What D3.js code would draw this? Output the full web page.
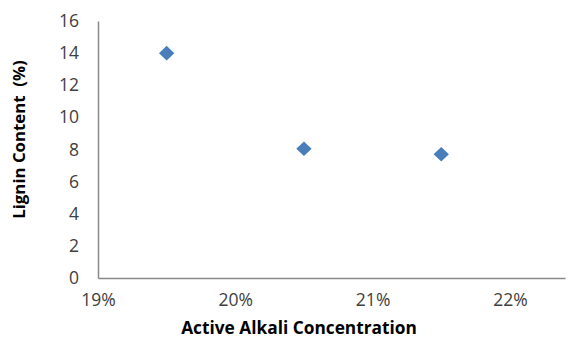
<!DOCTYPE html>
<html>
<head>
<meta charset="utf-8">
<script src="https://cdn.jsdelivr.net/npm/d3@7"></script>
<style>
  html, body { margin: 0; padding: 0; background: #fff; }
  svg { display: block; }
  text { font-family: "Open Sans", sans-serif; }
</style>
</head>
<body>
<svg id="chart" width="572" height="341"></svg>
<script>
// Data
const alkali = [0.195, 0.205, 0.215];
const lignin = [14.0, 8.05, 7.7];
const xTicks = [0.19, 0.20, 0.21, 0.22];
const yTicks = [0, 2, 4, 6, 8, 10, 12, 14, 16];

const svg = d3.select("#chart");
const mLeft = 98, mRight = 565, mTop = 21, mBottom = 278;

const x = d3.scaleLinear().domain([0.19, 0.19 + (mRight - mLeft) / 137.3 * 0.01]).range([mLeft, mRight]);
const y = d3.scaleLinear().domain([0, 16]).range([mBottom, mTop]);

// Axes
const xAxis = d3.axisBottom(x).tickValues(xTicks).tickSize(0).tickPadding(16)
  .tickFormat(d3.format(".0%"));
const yAxis = d3.axisLeft(y).tickValues(yTicks).tickSize(0).tickPadding(19)
  .tickFormat(d3.format("d"));

const gx = svg.append("g").attr("transform", `translate(0,${mBottom})`).call(xAxis);
const gy = svg.append("g").attr("transform", `translate(${mLeft},0)`).call(yAxis);

[gx, gy].forEach(g => {
  g.select(".domain").attr("stroke", "#898989").attr("stroke-width", 1.5);
  g.selectAll(".tick text").attr("fill", "#404040").style("font-size", "17.5px");
});
gx.selectAll(".tick text").attr("dy", "0.66em");

// Points (diamonds)
const diamond = d3.symbol().type(d3.symbolDiamond2).size(150);
svg.append("g").selectAll("path")
  .data(alkali.map((a, i) => [a, lignin[i]]))
  .join("path")
  .attr("d", diamond)
  .attr("transform", d => `translate(${x(d[0])},${y(d[1])}) scale(1,0.95)`)
  .attr("fill", "#4A7EBB");

// Axis titles
svg.append("text")
  .attr("x", 299).attr("y", 334)
  .attr("text-anchor", "middle")
  .style("font-size", "17.3px").style("font-weight", "bold")
  .attr("fill", "#000")
  .text("Active Alkali Concentration");

svg.append("text")
  .attr("transform", `translate(25,${(mTop + mBottom) / 2 - 10}) rotate(-90)`)
  .attr("text-anchor", "middle")
  .style("font-size", "16.8px").style("font-weight", "bold")
  .attr("fill", "#000")
  .attr("xml:space", "preserve")
  .text("Lignin Content  (%)");
</script>
</body>
</html>
